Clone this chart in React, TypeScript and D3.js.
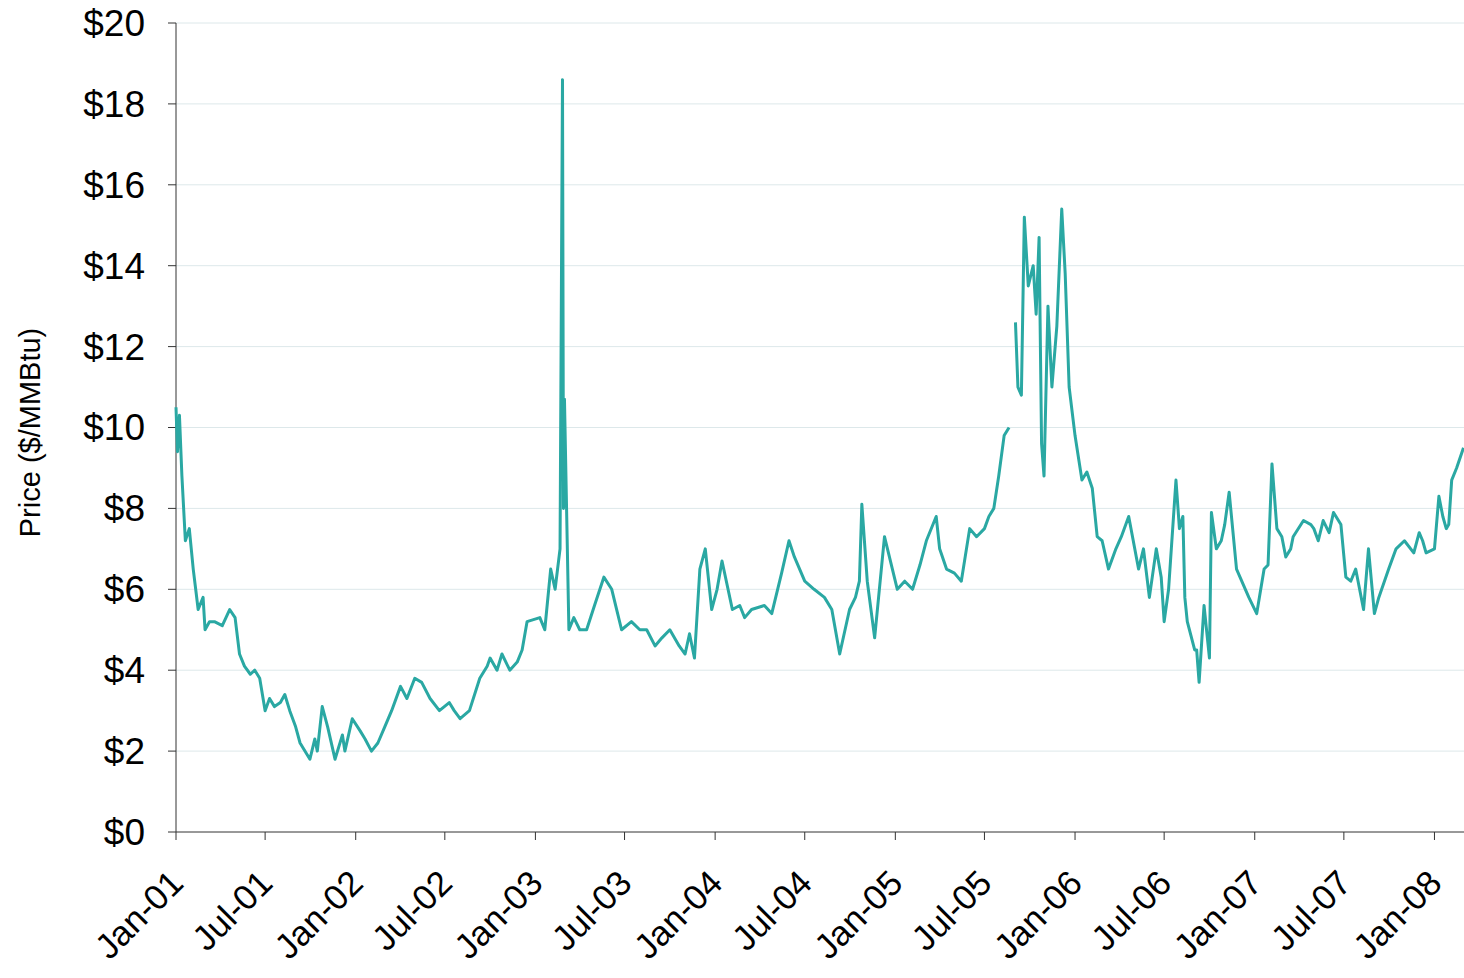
import React from "react";
import * as d3 from "d3";

const dates: string[] = [
"2001-01-01","2001-01-04","2001-01-08","2001-01-13","2001-01-20","2001-01-28","2001-02-10","2001-02-15","2001-03-01","2001-03-20","2001-04-20","2001-05-10","2001-06-01","2001-06-20","2001-07-01","2001-07-20","2001-08-20","2001-09-10","2001-09-30","2001-10-25","2001-11-05","2001-11-20","2001-12-05","2001-12-25",
"2002-02-02","2002-03-01","2002-04-02","2002-05-01","2002-06-20","2002-08-01","2002-09-10","2002-10-01","2002-11-10","2002-12-15",
"2003-01-10","2003-02-01","2003-02-10","2003-02-20","2003-02-25","2003-02-27","2003-03-01","2003-03-10","2003-04-01","2003-05-20","2003-06-25","2003-08-01","2003-09-01","2003-10-20","2003-11-20","2003-12-01","2003-12-12","2003-12-25",
"2004-01-15","2004-02-05","2004-03-01","2004-04-10","2004-05-30","2004-07-01","2004-08-10","2004-09-10","2004-09-30","2004-10-12","2004-10-25","2004-11-05","2004-11-20","2004-12-10",
"2005-01-05","2005-01-20","2005-02-05","2005-03-05","2005-03-25","2005-04-15","2005-05-15","2005-06-01","2005-07-01","2005-07-20","2005-07-30","2005-08-10","2005-08-20",
"2005-08-30","2005-09-02","2005-09-07","2005-09-14","2005-09-20","2005-09-28","2005-10-08","2005-10-14","2005-10-20","2005-10-25","2005-10-30","2005-11-07","2005-11-15","2005-11-25","2005-12-05","2005-12-12","2005-12-20",
"2006-01-01","2006-01-15","2006-02-05","2006-02-25","2006-03-10","2006-04-20","2006-05-10","2006-06-01","2006-06-15","2006-07-01","2006-07-10","2006-07-25","2006-08-01","2006-08-08","2006-08-12","2006-08-17","2006-09-01","2006-09-05","2006-09-10","2006-09-20","2006-10-01","2006-10-05","2006-10-15","2006-10-25","2006-11-01","2006-11-10","2006-11-25","2006-12-20",
"2007-01-05","2007-01-20","2007-02-05","2007-02-15","2007-03-05","2007-03-20","2007-04-10","2007-05-01","2007-05-20","2007-06-10","2007-06-25","2007-07-05","2007-07-15","2007-07-25","2007-08-10","2007-08-20","2007-09-01","2007-09-10","2007-09-30","2007-10-15","2007-11-01","2007-11-20","2007-12-01","2007-12-15",
"2008-01-01","2008-01-10","2008-01-18","2008-01-30","2008-02-05","2008-02-15","2008-02-29"];

const prices: (number | null)[] = [
10.5,9.4,10.3,8.8,7.2,7.5,6.0,5.5,5.0,5.2,5.5,4.4,3.9,3.8,3.0,3.1,3.0,2.2,1.8,3.1,2.6,1.8,2.4,2.8,
2.0,2.6,3.6,3.8,3.0,2.8,3.8,4.3,4.0,5.2,
5.3,6.5,6.0,7.0,18.6,8.0,10.7,5.0,5.0,6.3,5.0,5.0,4.6,4.6,4.3,6.5,7.0,5.5,
6.7,5.5,5.3,5.6,7.2,6.2,5.8,4.4,5.5,5.8,8.1,6.2,4.8,7.3,
6.0,6.2,6.0,7.2,7.8,6.5,6.2,7.5,7.5,8.0,8.8,9.8,10.0,
null,12.6,11.0,10.8,15.2,13.5,14.0,12.8,14.7,9.6,8.8,13.0,11.0,12.5,15.4,13.8,11.0,
9.8,8.7,8.5,7.2,6.5,7.8,6.5,5.8,7.0,5.2,6.0,8.7,7.5,7.8,5.8,5.2,4.5,4.5,3.7,5.6,4.3,7.9,7.0,7.2,7.6,8.4,6.5,5.8,
5.4,6.5,9.1,7.5,6.8,7.3,7.7,7.5,7.7,7.9,7.6,6.3,6.2,6.5,5.5,7.0,5.4,5.8,6.5,7.0,7.2,6.9,7.4,6.9,
7.0,8.3,7.8,7.6,8.7,9.0,9.5];

const detailDates: string[] = [
"2001-02-05","2001-02-25","2001-03-10","2001-04-05","2001-05-01","2001-05-20","2001-06-10","2001-07-10","2001-08-01","2001-08-10","2001-09-01","2001-10-10","2001-10-15","2001-12-10",
"2002-01-10","2002-01-20","2002-02-15","2002-03-15","2002-04-15","2002-05-15","2002-06-01","2002-07-10","2002-07-20","2002-08-20","2002-09-25","2002-10-15","2002-10-25","2002-11-25","2002-12-05",
"2003-01-20","2003-03-20","2003-04-15","2003-05-01","2003-06-05","2003-06-15","2003-07-15","2003-08-15","2003-09-15","2003-10-01","2003-11-01","2003-11-10",
"2004-01-05","2004-02-20","2004-03-15","2004-04-25","2004-05-15","2004-06-10","2004-07-20","2004-08-25","2004-10-20",
"2005-02-20","2005-04-01","2005-05-01","2005-06-15","2005-07-10",
"2006-01-25","2006-02-15","2006-03-25","2006-04-05","2006-05-20","2006-06-25",
"2007-01-28","2007-02-25","2007-03-15","2007-04-25","2007-05-10","2007-06-01","2007-12-08",
"2008-01-25"];
const detailPrices: number[] = [
6.5,5.8,5.2,5.1,5.3,4.1,4.0,3.3,3.2,3.4,2.6,2.3,2.0,2.0,
2.5,2.3,2.2,3.0,3.3,3.7,3.3,3.2,3.0,3.0,4.1,4.0,4.4,4.2,4.5,
5.0,5.3,5.0,5.6,6.0,5.5,5.2,5.0,4.8,5.0,4.4,4.9,
6.0,5.6,5.5,5.4,6.4,6.8,6.0,5.5,6.2,
6.6,7.0,6.4,7.3,7.8,
8.9,7.3,7.0,7.3,7.0,6.3,
6.6,7.3,7.0,7.6,7.2,7.4,7.2,
7.5];

const yTicks = [0, 2, 4, 6, 8, 10, 12, 14, 16, 18, 20];
const xTickLabels = ["Jan-01","Jul-01","Jan-02","Jul-02","Jan-03","Jul-03","Jan-04","Jul-04","Jan-05","Jul-05","Jan-06","Jul-06","Jan-07","Jul-07","Jan-08"];

export default function App() {
  const W = 1464, H = 978;
  const L = 176, R = 1464, T = 23, B = 832;
  const parse = d3.timeParse("%Y-%m-%d");
  const x = d3.scaleTime().domain([new Date(2001, 0, 1), new Date(2008, 2, 1)]).range([L, R]);
  const y = d3.scaleLinear().domain([0, 20]).range([B, T]);
  const pts = [
    ...dates.map((d, i) => ({ d: parse(d)!, v: prices[i] })),
    ...detailDates.map((d, i) => ({ d: parse(d)!, v: detailPrices[i] as number | null })),
  ].sort((a, b) => +a.d - +b.d);
  const line = d3.line<{ d: Date; v: number | null }>()
    .defined(p => p.v != null)
    .x(p => x(p.d)).y(p => y(p.v as number));
  const tickDates = xTickLabels.map((_, i) => new Date(2001 + Math.floor(i / 2), (i % 2) * 6, 1));
  return (
    <svg width={W} height={H} style={{ position: "absolute", left: 0, top: 0, fontFamily: "Liberation Sans, Arial, sans-serif" }}>
      {yTicks.map(t => (
        <g key={t}>
          {t > 0 && <line x1={L} x2={R} y1={y(t)} y2={y(t)} stroke="#dde8ea" strokeWidth={1} />}
          <line x1={L - 8} x2={L} y1={y(t)} y2={y(t)} stroke="#333" />
          <text x={L - 31} y={y(t)} dy="0.35em" textAnchor="end" fontSize={37}>${t}</text>
        </g>
      ))}
      <line x1={L} x2={L} y1={T} y2={B} stroke="#333" />
      <line x1={L} x2={R} y1={B} y2={B} stroke="#333" />
      {tickDates.map((d, i) => (
        <g key={i}>
          <line x1={x(d)} x2={x(d)} y1={B} y2={B + 8} stroke="#333" />
          <text transform={`translate(${x(d) - 8},${B + 36}) rotate(-45)`} textAnchor="end" dy="0.7em" fontSize={35}>{xTickLabels[i]}</text>
        </g>
      ))}
      <text transform={`translate(40,${(T + B) / 2 + 5}) rotate(-90)`} textAnchor="middle" fontSize={29}>Price ($/MMBtu)</text>
      <path d={line(pts) || ""} fill="none" stroke="#2aa8a3" strokeWidth={3} strokeLinejoin="round" />
    </svg>
  );
}
